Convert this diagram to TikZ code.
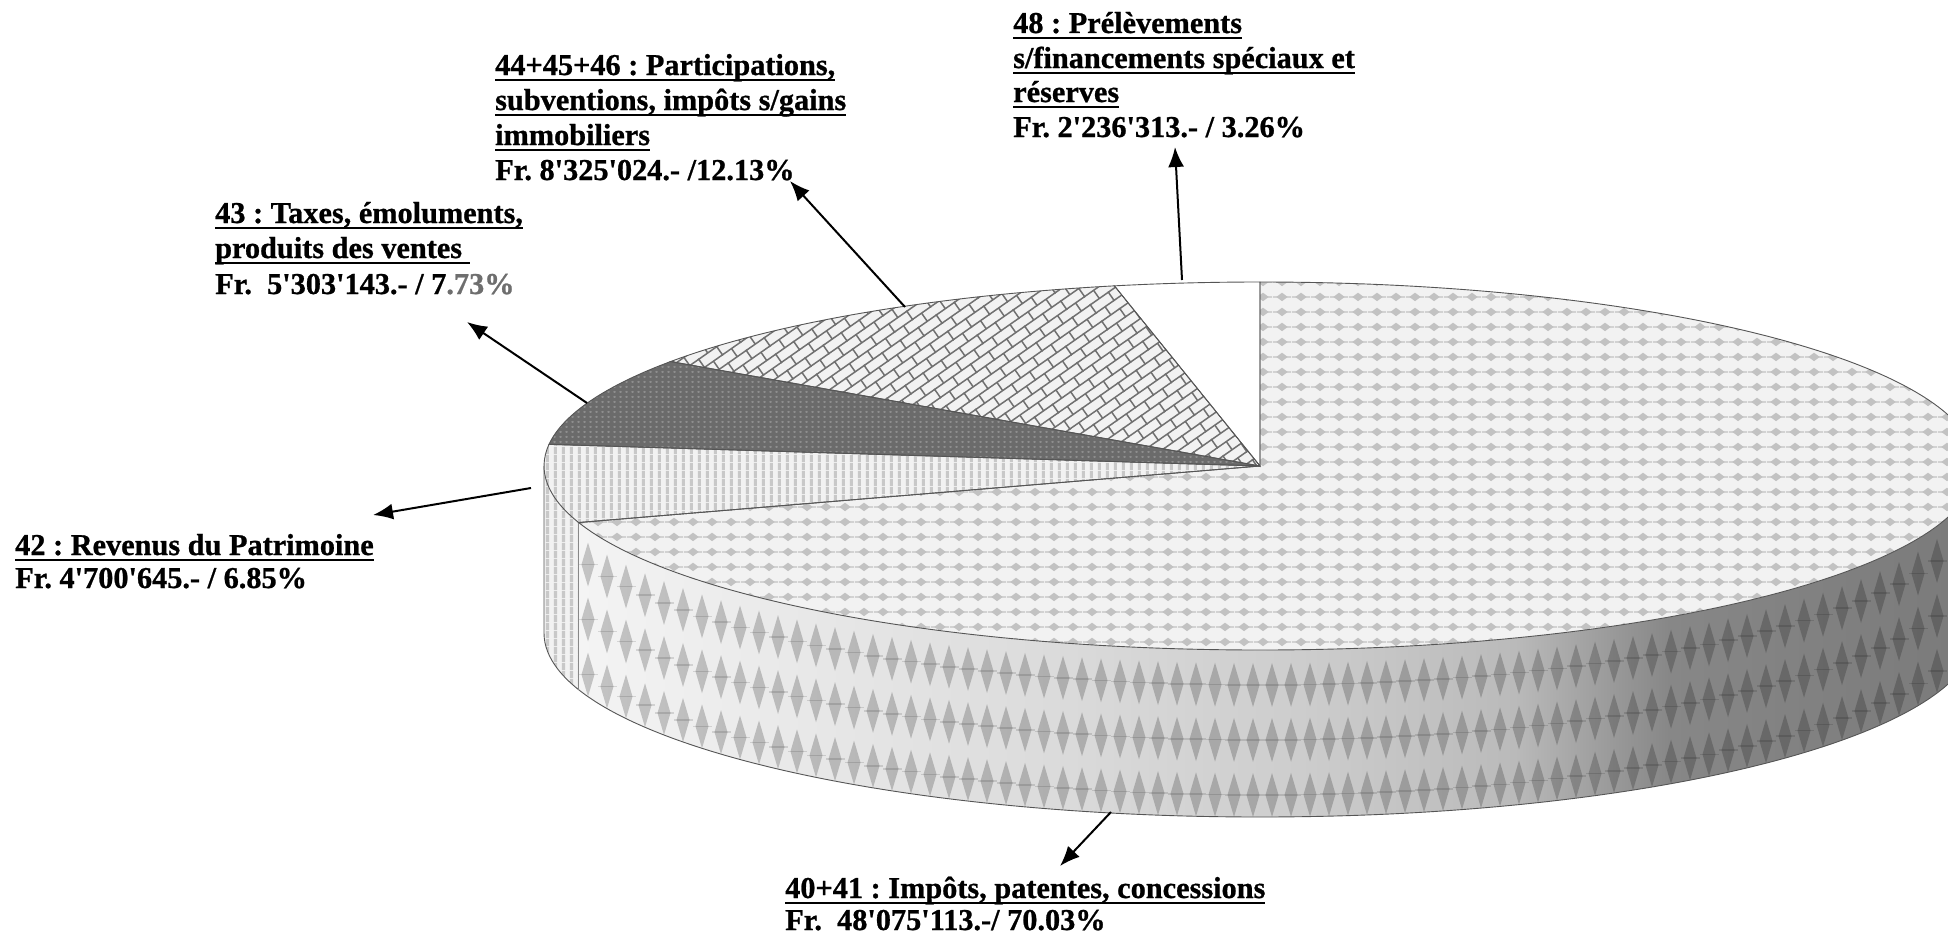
\documentclass[tikz,border=0pt]{standalone}
\usepackage{fontspec}
\setmainfont{Liberation Serif}[Ligatures=TeXOff,BoldFont={Liberation Serif Bold},BoldFeatures={FakeBold=0.8}]
\usetikzlibrary{patterns,patterns.meta,arrows.meta,calc}
\frenchspacing

\definecolor{tbg}{HTML}{F2F2F2}
\definecolor{tdot}{HTML}{C2C2C2}
\definecolor{stripe}{HTML}{C8C8C8}
\definecolor{darkbg}{HTML}{6B6B6B}
\definecolor{darkdot}{HTML}{8E8E8E}
\definecolor{brick}{HTML}{707070}
\definecolor{edge}{HTML}{555555}
\definecolor{fade}{HTML}{6E6E6E}
\definecolor{s0}{HTML}{F4F4F4}
\definecolor{s1}{HTML}{DEDEDE}
\definecolor{s2}{HTML}{CDCDCD}
\definecolor{s3}{HTML}{BABABA}
\definecolor{s4}{HTML}{878787}
\definecolor{s5}{HTML}{7A7A7A}

\pgfdeclarehorizontalshading{sideshade}{100bp}{color(0bp)=(s0); color(25bp)=(s0); color(40bp)=(s1); color(50.8bp)=(s2); color(58.5bp)=(s3); color(64bp)=(s4); color(75bp)=(s5); color(100bp)=(s5)}

\pgfdeclarepatternformonly{topdots}{\pgfqpoint{0pt}{0pt}}{\pgfqpoint{19pt}{15pt}}{\pgfqpoint{19pt}{15pt}}{%
  \pgfpathmoveto{\pgfqpoint{3.5pt}{7.5pt}}%
  \pgfpathlineto{\pgfqpoint{9.5pt}{12pt}}%
  \pgfpathlineto{\pgfqpoint{15.5pt}{7.5pt}}%
  \pgfpathlineto{\pgfqpoint{9.5pt}{3pt}}%
  \pgfpathclose
  \pgfusepath{fill}%
  \pgfpathrectangle{\pgfqpoint{0pt}{6.9pt}}{\pgfqpoint{19pt}{1.2pt}}%
  \pgfusepath{fill}%
}
\pgfdeclarepatternformonly{vstripes}{\pgfqpoint{0pt}{0pt}}{\pgfqpoint{8pt}{8pt}}{\pgfqpoint{8pt}{8pt}}{%
  \pgfpathrectangle{\pgfqpoint{2pt}{0pt}}{\pgfqpoint{3.5pt}{8pt}}\pgfusepath{fill}}
\pgfdeclarepatternformonly{fdots}{\pgfqpoint{0pt}{0pt}}{\pgfqpoint{6pt}{5pt}}{\pgfqpoint{6pt}{5pt}}{%
  \pgfpathellipse{\pgfqpoint{3pt}{2.5pt}}{\pgfqpoint{1.8pt}{0pt}}{\pgfqpoint{0pt}{1.3pt}}\pgfusepath{fill}}
\pgfdeclarepattern{
  name=brickrot,
  type=uncolored,
  bottom left={\pgfpoint{-1pt}{-1pt}},
  top right={\pgfpoint{23pt}{21pt}},
  tile size={\pgfpoint{22pt}{20pt}},
  tile transformation={\pgftransformrotate{35}},
  code={
    \pgfsetlinewidth{1.5pt}
    \pgfpathmoveto{\pgfpoint{-1pt}{0pt}}\pgfpathlineto{\pgfpoint{23pt}{0pt}}
    \pgfpathmoveto{\pgfpoint{-1pt}{10pt}}\pgfpathlineto{\pgfpoint{23pt}{10pt}}
    \pgfpathmoveto{\pgfpoint{0pt}{0pt}}\pgfpathlineto{\pgfpoint{0pt}{10pt}}
    \pgfpathmoveto{\pgfpoint{11pt}{10pt}}\pgfpathlineto{\pgfpoint{11pt}{20pt}}
    \pgfusepath{stroke}
  }
}

\newcommand\ulx[1]{\setbox0\hbox{#1}\rlap{\rule[-6pt]{\wd0}{2.4pt}}\box0}

\begin{document}
\begin{tikzpicture}[x=1pt,y=-1pt,
  lbl/.style={anchor=base west, inner sep=0pt, font=\fontsize{30.3}{35}\selectfont\bfseries},
  arr/.style={line width=2pt, -{Latex[length=20pt,width=16pt]}},
  pieedge/.style={draw=edge, line width=0.9pt}]
\useasboundingbox (0,0) rectangle (1948,934);
\fill[white] (0,0) rectangle (1948,934);

\coordinate (C) at (1260,466);

\begin{scope}
\clip (0,0) rectangle (1948,934);
% side wall of 40+41
\path[shading=sideshade] ($(C)+(0:716 and 184)$) arc[start angle=0,end angle=162.108,x radius=716,y radius=184] -- ++(0,167) arc[start angle=162.108,end angle=0,x radius=716,y radius=184] -- cycle;
\begin{scope}
\clip ($(C)+(0:716 and 184)$) arc[start angle=0,end angle=162.108,x radius=716,y radius=184] -- ++(0,167) arc[start angle=162.108,end angle=0,x radius=716,y radius=184] -- cycle;
\foreach \x in {588,607,...,1950} {
  \pgfmathsetmacro\t{466+184*sqrt(1-((\x-1260)/716)^2)}
  \foreach \o in {35,90,145} {
    \fill[black,opacity=.2] (\x-6.5,\t+\o) -- (\x,\t+\o-22) -- (\x+6.5,\t+\o) -- (\x,\t+\o+22) -- cycle;
    \fill[black,opacity=.12] (\x-9.5,\t+\o-0.8) rectangle (\x+9.5,\t+\o+0.8);
  }
}
\end{scope}
% side wall of 42
\path[fill=tbg, postaction={pattern=vstripes, pattern color=stripe}] ($(C)+(162.108:716 and 184)$) arc[start angle=162.108,end angle=180,x radius=716,y radius=184] -- ++(0,167) arc[start angle=180,end angle=162.108,x radius=716,y radius=184] -- cycle;
% wall outlines
\draw[pieedge] ($(C)+(0:716 and 184)+(0,167)$) arc[start angle=0,end angle=180,x radius=716,y radius=184] -- ++(0,-167);
\draw[draw=edge!70, line width=0.6pt] ($(C)+(162.108:716 and 184)$) -- ++(0,167);

% top faces
\path[fill=tbg, postaction={pattern=topdots, pattern color=tdot}] (C) -- ($(C)+(-90:716 and 184)$) arc[start angle=-90,end angle=162.108,x radius=716,y radius=184] -- cycle;
\path[fill=tbg, postaction={pattern=vstripes, pattern color=stripe}] (C) -- ($(C)+(162.108:716 and 184)$) arc[start angle=162.108,end angle=186.768,x radius=716,y radius=184] -- cycle;
\path[fill=darkbg, postaction={pattern=fdots, pattern color=darkdot}] (C) -- ($(C)+(186.768:716 and 184)$) arc[start angle=186.768,end angle=214.596,x radius=716,y radius=184] -- cycle;
\path[fill=tbg, postaction={pattern=brickrot, pattern color=brick}] (C) -- ($(C)+(214.596:716 and 184)$) arc[start angle=214.596,end angle=258.264,x radius=716,y radius=184] -- cycle;
\path[fill=white] (C) -- ($(C)+(258.264:716 and 184)$) arc[start angle=258.264,end angle=270,x radius=716,y radius=184] -- cycle;

% top outlines
\draw[pieedge] (C) -- ($(C)+(-90:716 and 184)$) arc[start angle=-90,end angle=162.108,x radius=716,y radius=184] -- cycle;
\draw[pieedge] (C) -- ($(C)+(162.108:716 and 184)$) arc[start angle=162.108,end angle=186.768,x radius=716,y radius=184] -- cycle;
\draw[pieedge] (C) -- ($(C)+(186.768:716 and 184)$) arc[start angle=186.768,end angle=214.596,x radius=716,y radius=184] -- cycle;
\draw[pieedge] (C) -- ($(C)+(214.596:716 and 184)$) arc[start angle=214.596,end angle=258.264,x radius=716,y radius=184] -- cycle;
\draw[pieedge] (C) -- ($(C)+(258.264:716 and 184)$) arc[start angle=258.264,end angle=270,x radius=716,y radius=184] -- cycle;
\end{scope}

% labels
\node[lbl] (t44a) at (495,75) {\ulx{44+45+46 : Participations,}};
\node[lbl] (t44b) at (495,110) {\ulx{subventions, impôts s/gains}};
\node[lbl] (t44c) at (495,145) {\ulx{immobiliers}};
\node[lbl] (t44d) at (495,180) {Fr. 8'325'024.- /12.13\%};

\node[lbl] (t48a) at (1013,33) {\ulx{48 : Prélèvements}};
\node[lbl] (t48b) at (1013,68) {\ulx{s/financements spéciaux et}};
\node[lbl] (t48c) at (1013,102) {\ulx{réserves}};
\node[lbl] (t48d) at (1013,137) {Fr. 2'236'313.- / 3.26\%};

\node[lbl] (t43a) at (215,223) {\ulx{43 : Taxes, émoluments,}};
\node[lbl] (t43b) at (215,258) {\ulx{produits des ventes\ }};
\node[lbl] (t43c) at (215,294) {Fr.\ \ 5'303'143.- / 7{\color{fade}.73\%}};

\node[lbl] (t42a) at (15,555) {\ulx{42 : Revenus du Patrimoine}};
\node[lbl] (t42b) at (15,588) {Fr. 4'700'645.- / 6.85\%};

\node[lbl] (t40a) at (785,898) {\ulx{40+41 : Impôts, patentes, concessions}};
\node[lbl] (t40b) at (785,930) {Fr.\ \ 48'075'113.-/ 70.03\%};

% arrows
\coordinate (s48) at (1182,280); \coordinate (e48) at (1175,147);
\coordinate (s44) at (905,307);  \coordinate (e44) at (790,181);
\coordinate (s43) at (587,403);  \coordinate (e43) at (467,322);
\coordinate (s42) at (531,488);  \coordinate (e42) at (373,515);
\coordinate (s40) at (1111,812); \coordinate (e40) at (1060,866);
\draw[arr] (s48) -- (e48);
\draw[arr] (s44) -- (e44);
\draw[arr] (s43) -- (e43);
\draw[arr] (s42) -- (e42);
\draw[arr] (s40) -- (e40);
\end{tikzpicture}
\end{document}
